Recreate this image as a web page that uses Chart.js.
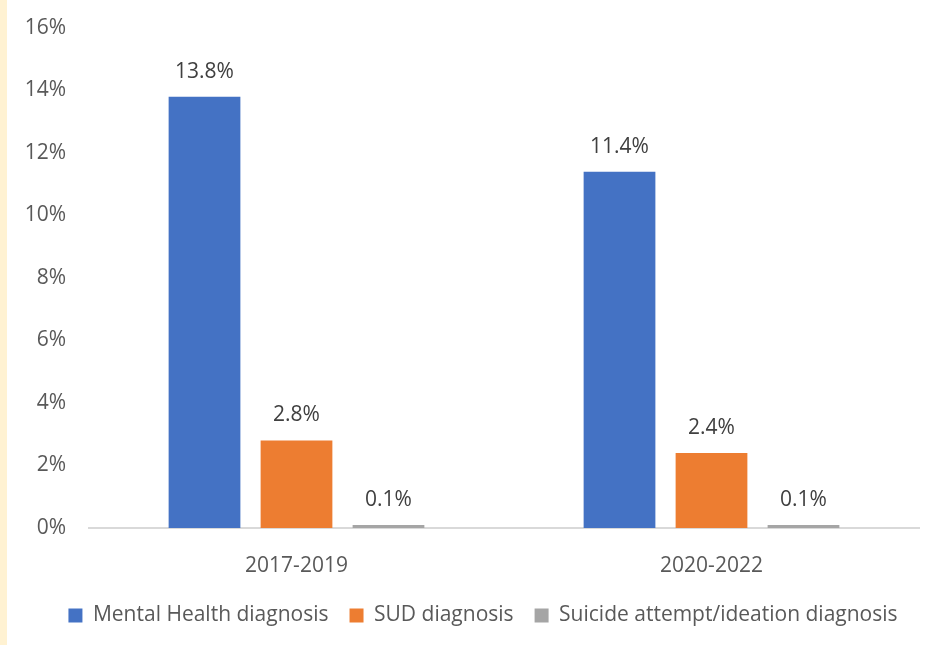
<!DOCTYPE html>
<html>
<head>
<meta charset="utf-8">
<script src="https://cdn.jsdelivr.net/npm/chart.js@4/dist/chart.umd.min.js"></script>
<style>
  html, body { margin: 0; padding: 0; background: #ffffff; }
  #wrap { position: relative; width: 926px; height: 645px; }
  #strip { position: absolute; left: 0; top: 0; width: 7px; height: 645px; background: #FFF2D2; z-index: 2; }
  canvas { position: absolute; left: 0; top: 0; }
</style>
</head>
<body>
<div id="wrap">
  <div id="strip"></div>
  <canvas id="c" width="926" height="645"></canvas>
</div>
<script>
const categories = ["2017-2019", "2020-2022"];
const seriesNames = ["Mental Health diagnosis", "SUD diagnosis", "Suicide attempt/ideation diagnosis"];
const mentalHealth = [13.8, 11.4];
const sud = [2.8, 2.4];
const suicide = [0.1, 0.1];
const colors = ["#4472C4", "#ED7D31", "#A5A5A5"];
const yTicks = [0, 2, 4, 6, 8, 10, 12, 14, 16];

const FONT = "'Open Sans', sans-serif";
const TEXT = "#595959";

const labelPlugin = {
  id: "barLabels",
  afterInit(chart) {
    const lg = chart.legend;
    if (lg) {
      const f = lg.fit.bind(lg);
      lg.fit = function () { f(); this.height = 66; };
    }
  },
  afterLayout(chart) {
    const lg = chart.legend;
    if (lg) {
      lg.left += 40;
      lg.top += 5;
      lg.bottom += 5;
    }
  },
  afterDatasetsDraw(chart) {
    const ctx = chart.ctx;
    ctx.save();
    ctx.font = "21px " + FONT;
    ctx.fillStyle = "#404040";
    ctx.textAlign = "center";
    ctx.textBaseline = "middle";
    chart.data.datasets.forEach((ds, i) => {
      const meta = chart.getDatasetMeta(i);
      meta.data.forEach((el, j) => {
        ctx.fillText(ds.data[j].toFixed(1) + "%", el.x, el.y - 25);
      });
    });
    ctx.restore();
  }
};

new Chart(document.getElementById("c"), {
  type: "bar",
  data: {
    labels: categories,
    datasets: [
      { label: seriesNames[0], data: mentalHealth, backgroundColor: colors[0] },
      { label: seriesNames[1], data: sud, backgroundColor: colors[1] },
      { label: seriesNames[2], data: suicide, backgroundColor: colors[2] }
    ]
  },
  options: {
    responsive: false,
    animation: false,
    devicePixelRatio: 1,
    categoryPercentage: 0.665,
    barPercentage: 0.78,
    layout: { padding: { left: 7, right: 7, top: 28, bottom: 0 } },
    plugins: {
      legend: {
        position: "bottom",
        labels: {
          boxWidth: 14,
          boxHeight: 14,
          padding: 21,
          color: TEXT,
          font: { family: FONT, size: 21 }
        }
      },
      tooltip: { enabled: false }
    },
    scales: {
      x: {
        grid: { display: false, drawTicks: false },
        border: { display: true, color: "#D9D9D9", width: 2 },
        ticks: { color: TEXT, font: { family: FONT, size: 21 }, padding: 25 },
        afterFit(s) { s.paddingLeft = 0; s.paddingRight = 0; s.height = 51; }
      },
      y: {
        min: 0,
        max: 16,
        afterBuildTicks(axis) { axis.ticks = yTicks.map(v => ({ value: v })); },
        grid: { display: false, drawTicks: false },
        border: { display: false },
        ticks: {
          color: TEXT,
          font: { family: FONT, size: 21 },
          padding: 23,
          callback: v => v + "%"
        },
        afterFit(s) { s.paddingTop = 0; s.paddingBottom = 0; s.width = 82; }
      }
    }
  },
  plugins: [labelPlugin]
});
</script>
</body>
</html>
